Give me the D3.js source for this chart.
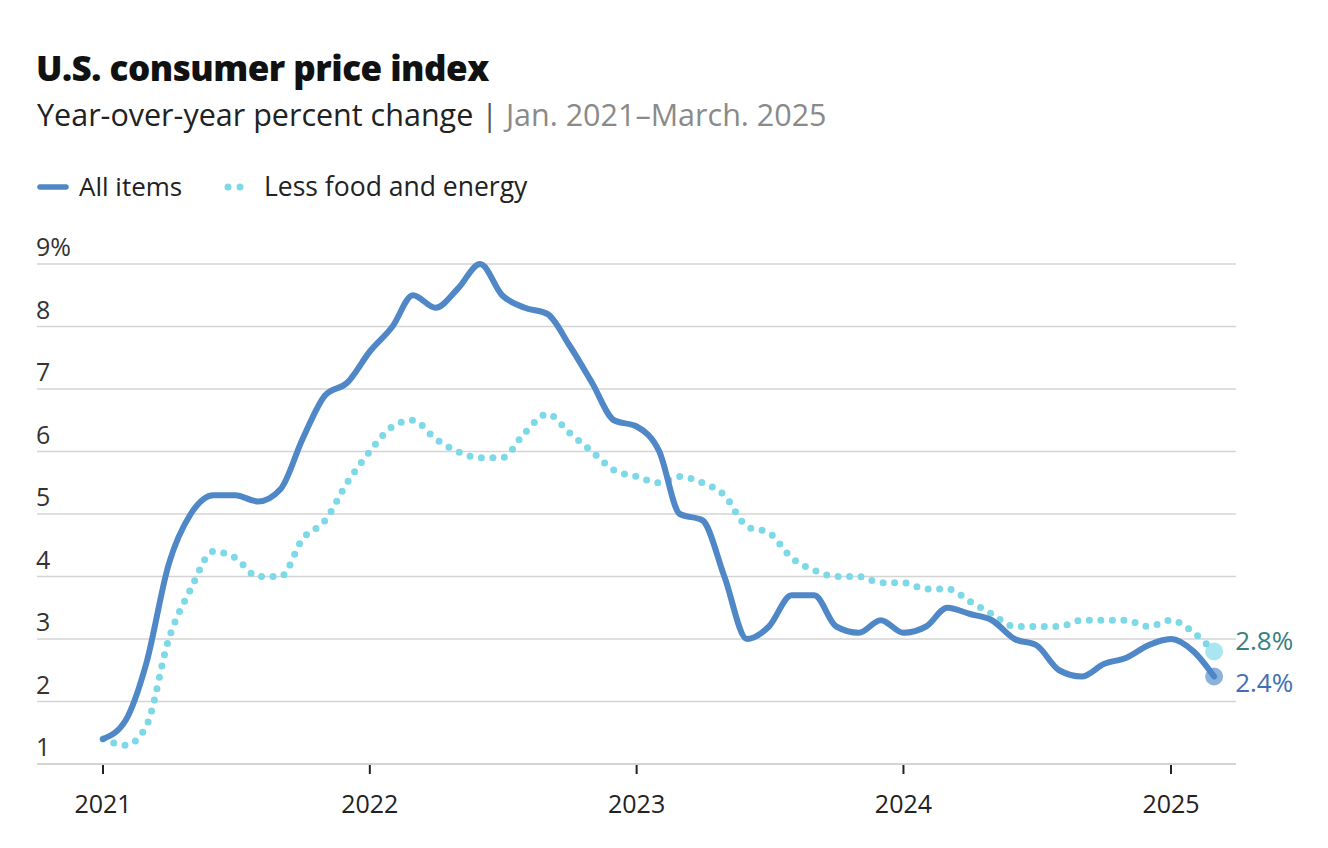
<!DOCTYPE html>
<html>
<head>
<meta charset="utf-8">
<script src="https://cdn.jsdelivr.net/npm/d3@7"></script>
<style>
  body { margin: 0; background: #fff; font-family: "Open Sans", Lato, sans-serif; }
</style>
</head>
<body>
<svg id="chart" width="1328" height="848"></svg>
<script>
// Monthly year-over-year CPI change, Jan. 2021 – Mar. 2025
const startMonth = new Date(2021, 0, 1);
const allItems = [
  1.4, 1.7, 2.6, 4.2, 5.0, 5.3, 5.3, 5.2, 5.4, 6.2, 6.9, 7.1,
  7.6, 8.0, 8.5, 8.3, 8.6, 9.0, 8.5, 8.3, 8.2, 7.7, 7.1, 6.5,
  6.4, 6.0, 5.0, 4.9, 4.0, 3.0, 3.2, 3.7, 3.7, 3.2, 3.1, 3.3,
  3.1, 3.2, 3.5, 3.4, 3.3, 3.0, 2.9, 2.5, 2.4, 2.6, 2.7, 2.9,
  3.0, 2.8, 2.4
];
const coreItems = [
  1.4, 1.3, 1.6, 3.0, 3.8, 4.4, 4.3, 4.0, 4.0, 4.6, 4.9, 5.5,
  6.0, 6.4, 6.5, 6.2, 6.0, 5.9, 5.9, 6.3, 6.6, 6.3, 6.0, 5.7,
  5.6, 5.5, 5.6, 5.5, 5.3, 4.8, 4.7, 4.3, 4.1, 4.0, 4.0, 3.9,
  3.9, 3.8, 3.8, 3.6, 3.4, 3.2, 3.2, 3.2, 3.3, 3.3, 3.3, 3.2,
  3.3, 3.1, 2.8
];
const yTicks = [1, 2, 3, 4, 5, 6, 7, 8, 9];
const xTickYears = [2021, 2022, 2023, 2024, 2025];
const seriesNames = ["All items", "Less food and energy"];

const colors = { all: "#4f87c7", core: "#7dd9e8", allLabel: "#3f70b5", coreLabel: "#3a8080" };

const monthDate = i => new Date(startMonth.getFullYear(), startMonth.getMonth() + i, 1);
const toPoints = arr => arr.map((v, i) => ({ date: monthDate(i), value: v }));
const allData = toPoints(allItems);
const coreData = toPoints(coreItems);

const svg = d3.select("#chart");

// Title block
svg.append("text")
  .attr("x", 36).attr("y", 81)
  .style("font-size", "35px").style("font-weight", 800).attr("fill", "#111")
  .style("letter-spacing", "-0.5px")
  .text("U.S. consumer price index");

const sub = svg.append("text")
  .attr("x", 37).attr("y", 126)
  .style("font-size", "30.5px");
sub.append("tspan").attr("fill", "#222").text("Year-over-year percent change ");
sub.append("tspan").attr("fill", "#555").text("| ");
sub.append("tspan").attr("fill", "#8a8a8a").text("Jan. 2021\u2013March. 2025");

// Legend
const legend = svg.append("g").attr("transform", "translate(0,187)");
legend.append("line")
  .attr("x1", 40).attr("x2", 66).attr("y1", 0).attr("y2", 0)
  .attr("stroke", colors.all).attr("stroke-width", 5.5).attr("stroke-linecap", "round");
legend.append("text").attr("x", 79).attr("y", 9)
  .style("font-size", "26px").attr("fill", "#222").text(seriesNames[0]);
legend.append("line")
  .attr("x1", 228).attr("x2", 242).attr("y1", 0).attr("y2", 0)
  .attr("stroke", colors.core).attr("stroke-width", 7)
  .attr("stroke-linecap", "round").attr("stroke-dasharray", "0 12");
legend.append("text").attr("x", 264).attr("y", 9)
  .style("font-size", "26.5px").attr("fill", "#222").text(seriesNames[1]);

// Scales
const x = d3.scaleTime()
  .domain([new Date(2021, 0, 1), new Date(2025, 0, 1)])
  .range([103, 1171]);
const y = d3.scaleLinear().domain([1, 9]).range([764, 264]);
const gridLeft = 37, gridRight = 1236;

// Gridlines + y labels
const grid = svg.append("g");
grid.selectAll("line")
  .data(yTicks)
  .enter().append("line")
  .attr("x1", gridLeft).attr("x2", gridRight)
  .attr("y1", d => y(d)).attr("y2", d => y(d))
  .attr("stroke", "#d4d4d4").attr("stroke-width", d => d === 1 ? 2 : 1.5);
grid.selectAll("text")
  .data(yTicks)
  .enter().append("text")
  .attr("x", gridLeft - 1).attr("y", d => y(d) - 8)
  .style("font-size", "25px").attr("fill", "#333")
  .text(d => d === 9 ? "9%" : d);

// X axis ticks and labels
const xAxis = svg.append("g");
xAxis.selectAll("line")
  .data(xTickYears)
  .enter().append("line")
  .attr("x1", d => x(new Date(d, 0, 1))).attr("x2", d => x(new Date(d, 0, 1)))
  .attr("y1", 765).attr("y2", 774)
  .attr("stroke", "#222").attr("stroke-width", 2);
xAxis.selectAll("text")
  .data(xTickYears)
  .enter().append("text")
  .attr("x", d => x(new Date(d, 0, 1))).attr("y", 813)
  .attr("text-anchor", "middle")
  .style("font-size", "25px").attr("fill", "#222")
  .text(d => d);

// Lines
const line = d3.line()
  .x(d => x(d.date))
  .y(d => y(d.value))
  .curve(d3.curveMonotoneX);

svg.append("path")
  .datum(coreData)
  .attr("d", line)
  .attr("fill", "none")
  .attr("stroke", colors.core)
  .attr("stroke-width", 7)
  .attr("stroke-linecap", "round")
  .attr("stroke-dasharray", "0 11.5");

svg.append("path")
  .datum(allData)
  .attr("d", line)
  .attr("fill", "none")
  .attr("stroke", colors.all)
  .attr("stroke-width", 6)
  .attr("stroke-linejoin", "round")
  .attr("stroke-linecap", "round");

// End markers and labels
const lastAll = allData[allData.length - 1];
const lastCore = coreData[coreData.length - 1];

svg.append("circle")
  .attr("cx", x(lastCore.date)).attr("cy", y(lastCore.value)).attr("r", 9)
  .attr("fill", colors.core).attr("fill-opacity", 0.65);
svg.append("circle")
  .attr("cx", x(lastAll.date)).attr("cy", y(lastAll.value)).attr("r", 9)
  .attr("fill", colors.all).attr("fill-opacity", 0.65);

svg.append("text")
  .attr("x", x(lastCore.date) + 21).attr("y", y(lastCore.value) - 2)
  .style("font-size", "26px").attr("fill", colors.coreLabel)
  .text(lastCore.value.toFixed(1) + "%");
svg.append("text")
  .attr("x", x(lastAll.date) + 21).attr("y", y(lastAll.value) + 15)
  .style("font-size", "26px").attr("fill", colors.allLabel)
  .text(lastAll.value.toFixed(1) + "%");
</script>
</body>
</html>
